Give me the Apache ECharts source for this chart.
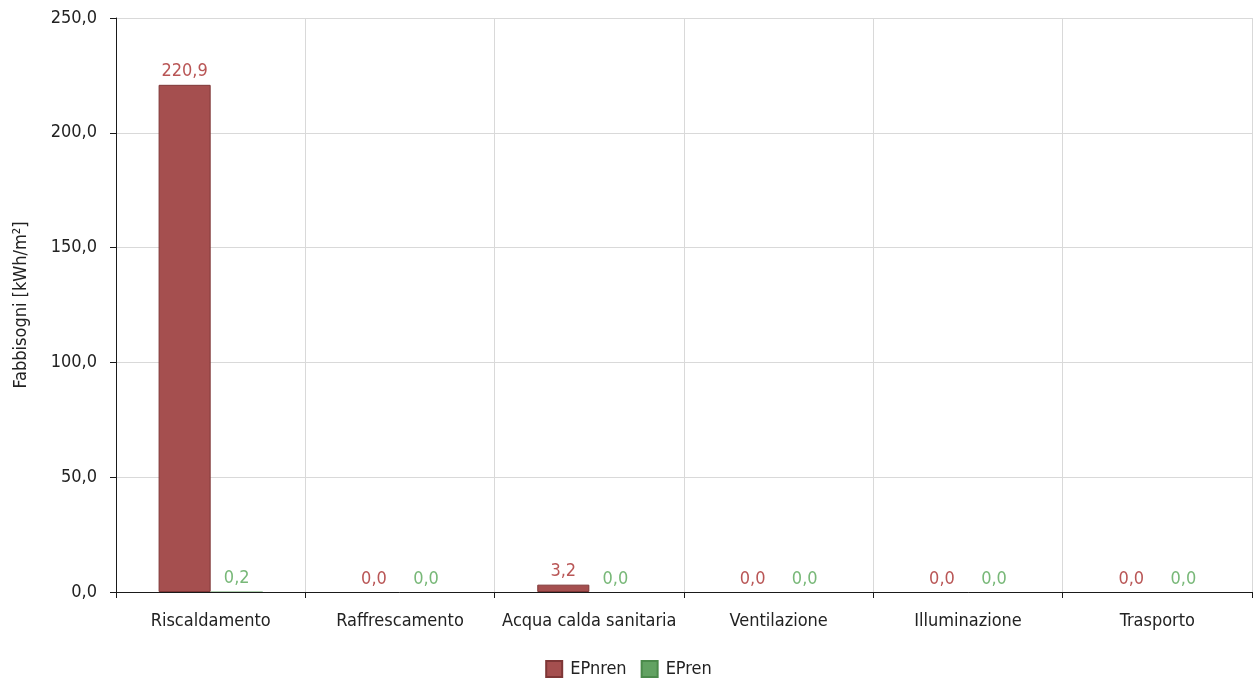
<!DOCTYPE html>
<html>
<head>
<meta charset="utf-8">
<script src="https://cdn.jsdelivr.net/npm/echarts@6/dist/echarts.min.js"></script>
<style>
  html, body { margin: 0; padding: 0; background: #fff; }
  #chart { width: 1257px; height: 682px; }
</style>
</head>
<body>
<div id="chart"></div>
<script>
// Energy needs per service, kWh/m²
const categories = ['Riscaldamento', 'Raffrescamento', 'Acqua calda sanitaria', 'Ventilazione', 'Illuminazione', 'Trasporto'];
const epNren = [220.9, 0.0, 3.2, 0.0, 0.0, 0.0];
const epRen = [0.2, 0.0, 0.0, 0.0, 0.0, 0.0];
const seriesNames = ['EPnren', 'EPren'];

const FONT = "'DejaVu Sans Condensed', 'DejaVu Sans', sans-serif";
const FS = 18;
const fmt = v => Number(v).toFixed(1).replace('.', ',');

// zero-height bars get no outline so they stay invisible
const withOutline = (values, border) => values.map(v => ({
  value: v,
  itemStyle: { borderWidth: v > 1 ? border : 0 }
}));

const chart = echarts.init(document.getElementById('chart'), null, { renderer: 'canvas' });
chart.setOption({
  animation: false,
  backgroundColor: '#ffffff',
  textStyle: { fontFamily: FONT },
  grid: { left: 116, right: 5, top: 18, bottom: 90, containLabel: false },
  legend: {
    bottom: 4,
    left: 'center',
    padding: 0,
    itemWidth: 16,
    itemHeight: 16,
    itemGap: 14,
    icon: 'rect',
    textStyle: { fontFamily: FONT, fontSize: FS, color: '#222', padding: [0, 0, 0, 3] },
    data: seriesNames
  },
  xAxis: {
    type: 'category',
    data: categories,
    boundaryGap: true,
    axisLine: { show: true, lineStyle: { color: '#1a1a1a', width: 1 } },
    axisTick: { show: true, length: 6, alignWithLabel: false, lineStyle: { color: '#1a1a1a' } },
    axisLabel: { fontFamily: FONT, fontSize: FS, color: '#222', margin: 20, interval: 0 },
    splitLine: { show: true, lineStyle: { color: '#d9d9d9', width: 1 } }
  },
  yAxis: {
    type: 'value',
    min: 0,
    max: 250,
    interval: 50,
    name: 'Fabbisogni [kWh/m²]',
    nameLocation: 'middle',
    nameGap: 86,
    nameTextStyle: { fontFamily: FONT, fontSize: FS, color: '#222' },
    axisLine: { show: true, lineStyle: { color: '#1a1a1a', width: 1 } },
    axisTick: { show: true, length: 6, lineStyle: { color: '#1a1a1a' } },
    axisLabel: { fontFamily: FONT, fontSize: FS, color: '#222', margin: 19, formatter: fmt },
    splitLine: { show: true, lineStyle: { color: '#d9d9d9', width: 1 } }
  },
  series: [
    {
      name: seriesNames[0],
      type: 'bar',
      data: withOutline(epNren, 1),
      barGap: '0%',
      barCategoryGap: '45%',
      itemStyle: { color: '#a54f4f', borderColor: '#7e3636', borderWidth: 1 },
      label: {
        show: true, position: 'top', distance: 4,
        fontFamily: FONT, fontSize: FS, color: '#b95656',
        formatter: p => fmt(p.value)
      }
    },
    {
      name: seriesNames[1],
      type: 'bar',
      data: withOutline(epRen, 1),
      barGap: '0%',
      barCategoryGap: '45%',
      itemStyle: { color: '#62a262', borderColor: '#4b8a4b', borderWidth: 1 },
      label: {
        show: true, position: 'top', distance: 4,
        fontFamily: FONT, fontSize: FS, color: '#78b878',
        formatter: p => fmt(p.value)
      }
    }
  ]
});
</script>
</body>
</html>
